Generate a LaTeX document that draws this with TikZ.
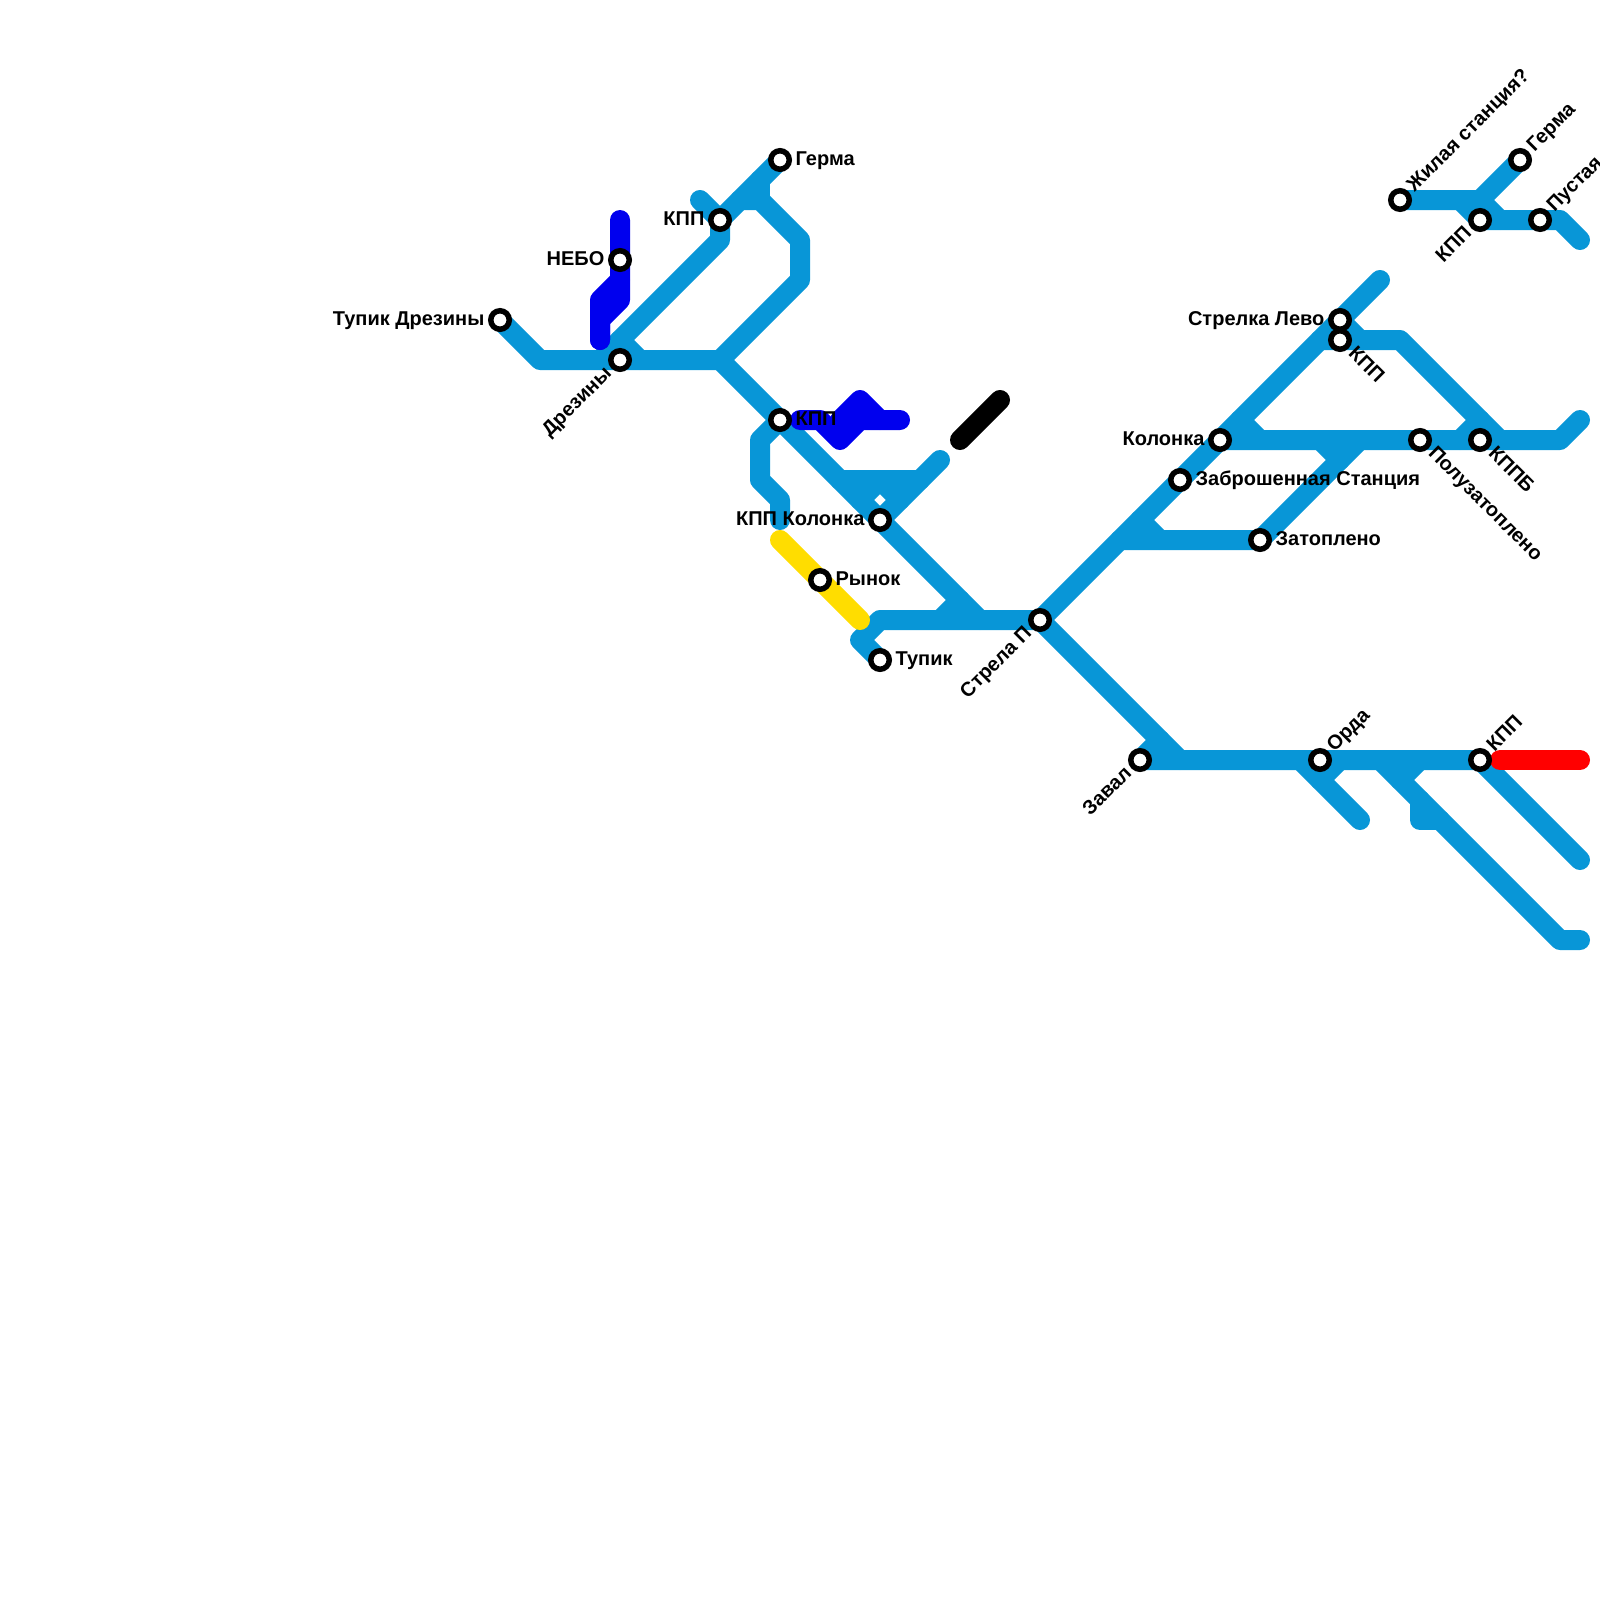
\documentclass[tikz,border=0pt]{standalone}
\usepackage{fontspec}
\setmainfont{Liberation Sans}
\usetikzlibrary{backgrounds}
\definecolor{lineblue}{HTML}{0896D7}
\definecolor{deepblue}{HTML}{0000EE}
\definecolor{metroyellow}{HTML}{FFDD00}
\tikzset{
  x=0.5pt,y=-0.5pt,
  track/.style={line width=10pt,line cap=round,line join=round},
  tblue/.style={track,draw=lineblue},
  tdeep/.style={track,draw=deepblue},
  tyellow/.style={track,draw=metroyellow},
  tblack/.style={track,draw=black},
  tred/.style={track,draw=red},
  station/.style={circle,draw=black,fill=white,line width=2.75pt,minimum size=9.25pt,inner sep=0pt,outer sep=0pt},
  lbl/.style={font=\bfseries\fontsize{10}{12}\selectfont,inner sep=0pt,text=black},
  lblE/.style={lbl,anchor=base west,xshift=7.6pt,yshift=-2.5pt},
  lblW/.style={lbl,anchor=base east,xshift=-7.6pt,yshift=-2.5pt},
  lblNE/.style={lbl,anchor=base west,xshift=7.1pt,yshift=3.6pt,rotate=45},
  lblSW/.style={lbl,anchor=base east,xshift=-3.6pt,yshift=-7.1pt,rotate=45},
  lblSE/.style={lbl,anchor=base west,xshift=3.6pt,yshift=-7.1pt,rotate=-45},
}
\begin{document}
\begin{tikzpicture}
\useasboundingbox (0,0) rectangle (1600,1600);
% stations
\node[station] (tupikdr) at (500,320) {};
\node[station] (drez) at (620,360) {};
\node[station] (nebo) at (620,260) {};
\node[station] (kppA) at (720,220) {};
\node[station] (germaA) at (780,160) {};
\node[station] (kppB) at (780,420) {};
\node[station] (kppkol) at (880,520) {};
\node[station] (rynok) at (820,580) {};
\node[station] (tupik) at (880,660) {};
\node[station] (strela) at (1040,620) {};
\node[station] (zaval) at (1140,760) {};
\node[station] (zabr) at (1180,480) {};
\node[station] (kolonka) at (1220,440) {};
\node[station] (zatop) at (1260,540) {};
\node[station] (strlevo) at (1340,320) {};
\node[station] (kppC) at (1340,340) {};
\node[station] (poluz) at (1420,440) {};
\node[station] (kppb) at (1480,440) {};
\node[station] (orda) at (1320,760) {};
\node[station] (kppD) at (1480,760) {};
\node[station] (zhil) at (1400,200) {};
\node[station] (germaB) at (1520,160) {};
\node[station] (kppE) at (1480,220) {};
\node[station] (pust) at (1540,220) {};
% labels
\node[lblW] (lTD) at (tupikdr.center) {Тупик Дрезины};
\node[lblSW] (lDr) at (drez.center) {Дрезины};
\node[lblW] (lNe) at (nebo.center) {НЕБО};
\node[lblW] (lKA) at (kppA.center) {КПП};
\node[lblE] (lGA) at (germaA.center) {Герма};
\node[lblE] (lKB) at (kppB.center) {КПП};
\node[lblW] (lKK) at (kppkol.center) {КПП Колонка};
\node[lblE] (lRy) at (rynok.center) {Рынок};
\node[lblE] (lTu) at (tupik.center) {Тупик};
\node[lblSW] (lSt) at (strela.center) {Стрела П};
\node[lblSW] (lZv) at (zaval.center) {Завал};
\node[lblE] (lZb) at (zabr.center) {Заброшенная Станция};
\node[lblW] (lKo) at (kolonka.center) {Колонка};
\node[lblE] (lZt) at (zatop.center) {Затоплено};
\node[lblW] (lSL) at (strlevo.center) {Стрелка Лево};
\node[lblSE] (lKC) at (kppC.center) {КПП};
\node[lblSE] (lPo) at (poluz.center) {Полузатоплено};
\node[lblSE] (lKb) at (kppb.center) {КППБ};
\node[lblNE] (lOr) at (orda.center) {Орда};
\node[lblNE] (lKD) at (kppD.center) {КПП};
\node[lblNE] (lZh) at (zhil.center) {Жилая станция?};
\node[lblNE] (lGB) at (germaB.center) {Герма};
\node[lblSW] (lKE) at (kppE.center) {КПП};
\node[lblNE] (lPu) at (pust.center) {Пустая};
% way points
\coordinate (j1) at (720,360);
\coordinate (a1) at (540,360);
\coordinate (a2) at (600,360);
\coordinate (a3) at (720,240);
\coordinate (a4) at (620,340);
\coordinate (a5) at (640,360);
\coordinate (a6) at (700,200);
\coordinate (a7) at (760,180);
\coordinate (a8) at (740,200);
\coordinate (a9) at (760,200);
\coordinate (a10) at (800,240);
\coordinate (a11) at (800,280);
\coordinate (b1) at (980,620);
\coordinate (b2) at (760,440);
\coordinate (b3) at (760,480);
\coordinate (b4) at (780,500);
\coordinate (b5) at (780,520);
\coordinate (b6) at (840,480);
\coordinate (b7) at (920,480);
\coordinate (b8) at (940,460);
\coordinate (b9) at (860,500);
\coordinate (b10) at (880,480);
\coordinate (b11) at (900,500);
\coordinate (b12) at (880,620);
\coordinate (b13) at (860,640);
\coordinate (b14) at (940,620);
\coordinate (b15) at (960,600);
\coordinate (c1) at (1380,280);
\coordinate (c2) at (1120,540);
\coordinate (c3) at (1360,440);
\coordinate (c4) at (1140,520);
\coordinate (c5) at (1160,540);
\coordinate (c6) at (1560,440);
\coordinate (c7) at (1580,420);
\coordinate (c8) at (1240,420);
\coordinate (c9) at (1260,440);
\coordinate (c10) at (1320,440);
\coordinate (c11) at (1340,460);
\coordinate (c12) at (1320,340);
\coordinate (c13) at (1400,340);
\coordinate (c14) at (1500,440);
\coordinate (c15) at (1360,340);
\coordinate (c16) at (1460,440);
\coordinate (c17) at (1480,420);
\coordinate (d1) at (1480,200);
\coordinate (d2) at (1460,200);
\coordinate (d3) at (1560,220);
\coordinate (d4) at (1580,240);
\coordinate (d5) at (1500,220);
\coordinate (e1) at (1180,760);
\coordinate (e2) at (1580,860);
\coordinate (e3) at (1160,740);
\coordinate (e4) at (1360,820);
\coordinate (e5) at (1320,780);
\coordinate (e6) at (1340,760);
\coordinate (e7) at (1380,760);
\coordinate (e8) at (1560,940);
\coordinate (e9) at (1580,940);
\coordinate (e10) at (1420,760);
\coordinate (e11) at (1400,780);
\coordinate (e12) at (1420,800);
\coordinate (e13) at (1420,820);
\coordinate (e14) at (1440,820);
\coordinate (e15) at (1300,760);
\coordinate (y1) at (780,540);
\coordinate (y2) at (860,620);
\coordinate (n1) at (620,220);
\coordinate (n2) at (620,300);
\coordinate (n3) at (600,320);
\coordinate (n4) at (600,340);
\coordinate (n5) at (620,280);
\coordinate (n6) at (600,300);
\coordinate (m1) at (800,420);
\coordinate (m2) at (820,420);
\coordinate (m3) at (840,440);
\coordinate (m4) at (860,420);
\coordinate (m5) at (900,420);
\coordinate (m6) at (840,420);
\coordinate (m7) at (860,400);
\coordinate (m8) at (880,420);
\coordinate (k1) at (960,440);
\coordinate (k2) at (1000,400);
\coordinate (r1) at (1500,760);
\coordinate (r2) at (1580,760);
\begin{pgfonlayer}{background}
% light blue network
\draw[tblue] (tupikdr.center) -- (a1) -- (drez.center) -- (j1);
\draw[tblue] (a2) -- (a3) -- (kppA.center);
\draw[tblue] (a4) -- (a5);
\draw[tblue] (a6) -- (kppA.center) -- (a7) -- (germaA.center);
\draw[tblue] (a8) -- (a9) -- (a10) -- (a11) -- (j1);
\draw[tblue] (a7) -- (a9);
\draw[tblue] (j1) -- (kppB.center) -- (kppkol.center) -- (b1);
\draw[tblue] (kppB.center) -- (b2) -- (b3) -- (b4) -- (b5);
\draw[tblue] (b6) -- (b7) -- (b8);
\draw[tblue] (b7) -- (kppkol.center);
\draw[tblue] (b9) -- (b10) -- (b11);
\draw[tblue] (strela.center) -- (b12) -- (b13) -- (tupik.center);
\draw[tblue] (b14) -- (b15);
\draw[tblue] (strela.center) -- (zabr.center) -- (kolonka.center) -- (strlevo.center) -- (c1);
\draw[tblue] (c2) -- (zatop.center) -- (c3);
\draw[tblue] (c4) -- (c5);
\draw[tblue] (kolonka.center) -- (poluz.center) -- (kppb.center) -- (c6) -- (c7);
\draw[tblue] (c8) -- (c9);
\draw[tblue] (c10) -- (c11);
\draw[tblue] (c12) -- (kppC.center) -- (c13) -- (c14);
\draw[tblue] (strlevo.center) -- (c15);
\draw[tblue] (c16) -- (c17);
\draw[tblue] (zhil.center) -- (d1) -- (germaB.center);
\draw[tblue] (d2) -- (kppE.center) -- (pust.center) -- (d3) -- (d4);
\draw[tblue] (d1) -- (d5);
\draw[tblue] (strela.center) -- (e1);
\draw[tblue] (zaval.center) -- (orda.center) -- (kppD.center) -- (e2);
\draw[tblue] (zaval.center) -- (e3);
\draw[tblue] (e15) -- (e4);
\draw[tblue] (e5) -- (e6);
\draw[tblue] (e7) -- (e8) -- (e9);
\draw[tblue] (e10) -- (e11);
\draw[tblue] (e12) -- (e13) -- (e14);
% other lines
\draw[tyellow] (y1) -- (rynok.center) -- (y2);
\draw[tdeep] (n1) -- (nebo.center) -- (n2) -- (n3) -- (n4);
\draw[tdeep] (n5) -- (n6) -- (n4);
\draw[tdeep] (m1) -- (m2) -- (m3) -- (m4) -- (m5);
\draw[tdeep] (m6) -- (m7) -- (m8);
\draw[tblack] (k1) -- (k2);
\draw[tred] (r1) -- (r2);
\end{pgfonlayer}
\end{tikzpicture}
\end{document}
